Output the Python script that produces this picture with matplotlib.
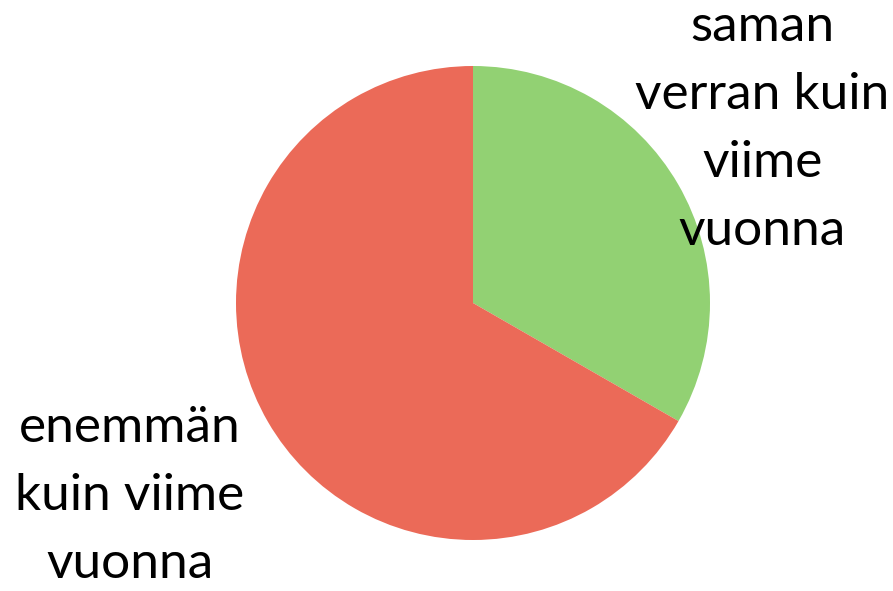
import numpy as np
import matplotlib.pyplot as plt

# shares
labels = ['saman\nverran kuin\nviime\nvuonna', 'enemmän\nkuin viime\nvuonna']
values = [33.3, 66.7]
colors = ['#92D173', '#EB6A58']

fig = plt.figure(figsize=(8.93, 5.91), dpi=100)
ax = fig.add_axes([0, 0, 1, 1])
ax.pie(values, colors=colors, startangle=90, counterclock=False, radius=1.0,
       wedgeprops=dict(linewidth=0))
ax.set_aspect('equal')
ax.set_xlim(-473/237, (893-473)/237)
ax.set_ylim(-(591-303)/237, 303/237)
ax.axis('off')

# label blocks next to the pie
pos = [(1.22, 0.735), (-1.447, -0.815)]
for lab, (x, y) in zip(labels, pos):
    ax.text(x, y, lab, ha='center', va='center', fontsize=37, family='Lato',
            linespacing=1.6, color='black')

plt.savefig('out.png', dpi=100)
